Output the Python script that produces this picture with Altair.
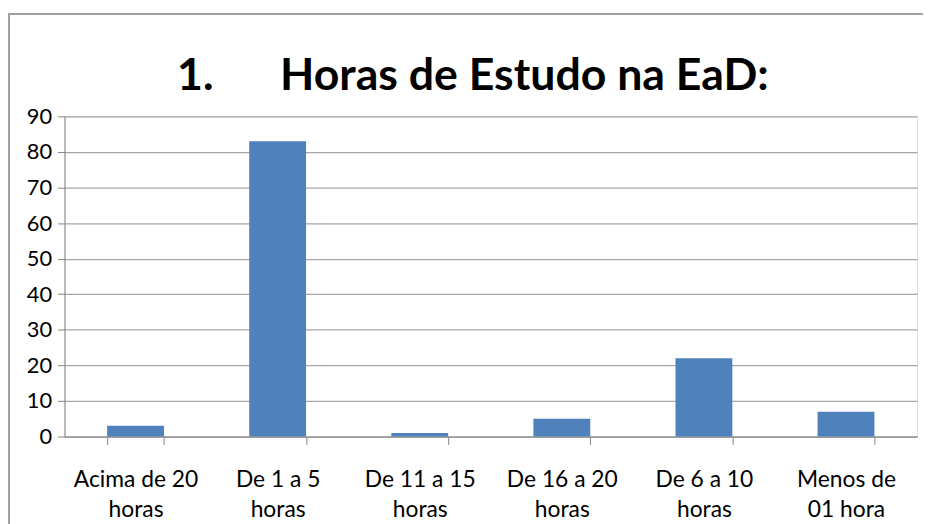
import altair as alt
import pandas as pd

categories = ["Acima de 20\nhoras", "De 1 a 5\nhoras", "De 11 a 15\nhoras",
              "De 16 a 20\nhoras", "De 6 a 10\nhoras", "Menos de\n01 hora"]
values = [3, 83, 1, 5, 22, 7]
y_ticks = [0, 10, 20, 30, 40, 50, 60, 70, 80, 90]
title_text = "1.\u2003\u2002\u00a0Horas de Estudo na EaD:"

df = pd.DataFrame({"cat": categories, "val": values})

FONT = "Lato"
GRID = "#A6A6A6"
AXIS = "#868686"

bars = alt.Chart(df).mark_bar(color="#4F81BD").encode(
    x=alt.X("cat:N", sort=None, title=None,
            scale=alt.Scale(paddingInner=0.6, paddingOuter=0.3),
            axis=alt.Axis(labelExpr="split(datum.label, '\\n')",
                          labelAngle=0, labelFont=FONT, labelFontSize=23,
                          labelColor="black", labelLineHeight=31,
                          labelPadding=24, tickBand="extent", tickSize=8,
                          tickColor=AXIS, domainColor=AXIS, grid=False,
                          labelBaseline="top")),
    y=alt.Y("val:Q", title=None,
            scale=alt.Scale(domain=[0, 90], nice=False),
            axis=alt.Axis(values=y_ticks, labelFont=FONT, labelFontSize=22,
                          labelColor="black", labelPadding=6, tickSize=7,
                          tickColor=AXIS, domainColor=AXIS, gridColor=GRID,
                          gridWidth=1.3)),
)

border_top = alt.Chart(df).mark_rule(color="#A0A0A0", strokeWidth=1.5).encode(
    x=alt.value(-57), x2=alt.value(870), y=alt.value(-103))
border_left = alt.Chart(df).mark_rule(color="#A0A0A0", strokeWidth=1.5).encode(
    x=alt.value(-56), y=alt.value(-103), y2=alt.value(430))

title_df = pd.DataFrame({"t": [title_text]})
title = alt.Chart(title_df).mark_text(
    font=FONT, fontSize=45, fontWeight="bold", color="black",
    align="center", baseline="alphabetic").encode(
    text="t:N", x=alt.value(412), y=alt.value(-27))

chart = alt.layer(border_top, border_left, bars, title).properties(
    width=860, height=323,
    autosize=alt.AutoSizeParams(type="none"),
    padding={"left": 57, "top": 107, "right": 6, "bottom": 95},
).configure_view(stroke=None).configure(background="white")

chart.save("out.html", embed_options={"renderer": "svg", "actions": False})
